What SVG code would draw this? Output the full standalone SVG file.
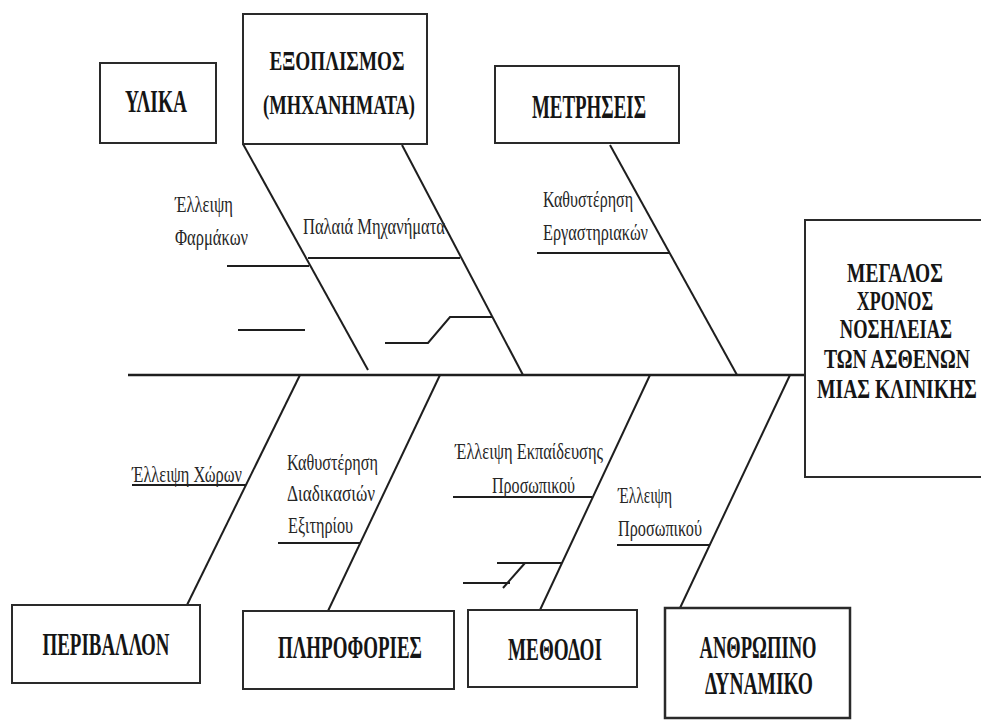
<svg xmlns="http://www.w3.org/2000/svg" width="981" height="720" viewBox="0 0 981 720">
<style>
.box{fill:#fff;stroke:#2a2a2a;stroke-width:2}
.t{font-family:"Liberation Serif","Times New Roman",serif;font-weight:bold;fill:#151515;text-anchor:middle}
.l{font-family:"Liberation Serif","Times New Roman",serif;font-size:23px;fill:#262626}
.ln{stroke:#1e1e1e;stroke-width:2;fill:none}
.sp{stroke:#1e1e1e;stroke-width:2.5;fill:none}
</style>
<rect width="981" height="720" fill="#fff"/>
<g id="connectors">
<line class="sp" x1="128" y1="375" x2="805" y2="375"/>
<line class="ln" x1="243" y1="144" x2="368" y2="370"/>
<line class="ln" x1="402" y1="145" x2="523" y2="375"/>
<line class="ln" x1="610" y1="145" x2="737" y2="375"/>
<line class="ln" x1="300" y1="375" x2="187" y2="605"/>
<line class="ln" x1="440" y1="375" x2="328" y2="611"/>
<line class="ln" x1="650" y1="375" x2="540" y2="610"/>
<line class="ln" x1="790" y1="375" x2="680" y2="608"/>
<line class="ln" x1="227" y1="266" x2="309" y2="266"/>
<line class="ln" x1="308" y1="258" x2="460" y2="258"/>
<line class="ln" x1="238" y1="330" x2="305" y2="330"/>
<polyline class="ln" points="493,317 450,317 428,343 385,343"/>
<line class="ln" x1="537" y1="253" x2="670" y2="253"/>
<line class="ln" x1="132" y1="485" x2="246" y2="485"/>
<line class="ln" x1="278" y1="543" x2="360" y2="543"/>
<line class="ln" x1="453" y1="497" x2="592" y2="497"/>
<line class="ln" x1="497" y1="563" x2="562" y2="563"/>
<line class="ln" x1="525" y1="563" x2="503" y2="588"/>
<line class="ln" x1="463" y1="583" x2="510" y2="583"/>
<line class="ln" x1="617" y1="545" x2="710" y2="545"/>
</g>
<g id="labels">
<text class="l" x="175" y="212" textLength="58" lengthAdjust="spacingAndGlyphs">Έλλειψη</text>
<text class="l" x="175" y="245" textLength="73" lengthAdjust="spacingAndGlyphs">Φαρμάκων</text>
<text class="l" x="303" y="234" textLength="142" lengthAdjust="spacingAndGlyphs">Παλαιά Μηχανήματα</text>
<text class="l" x="543" y="207" textLength="90" lengthAdjust="spacingAndGlyphs">Καθυστέρηση</text>
<text class="l" x="543" y="240" textLength="105" lengthAdjust="spacingAndGlyphs">Εργαστηριακών</text>
<text class="l" x="132" y="482" textLength="110" lengthAdjust="spacingAndGlyphs">Έλλειψη Χώρων</text>
<text class="l" x="287" y="470" textLength="91" lengthAdjust="spacingAndGlyphs">Καθυστέρηση</text>
<text class="l" x="287" y="501" textLength="88" lengthAdjust="spacingAndGlyphs">Διαδικασιών</text>
<text class="l" x="288" y="533" textLength="65" lengthAdjust="spacingAndGlyphs">Εξιτηρίου</text>
<text class="l" x="455" y="459" textLength="148" lengthAdjust="spacingAndGlyphs">Έλλειψη Εκπαίδευσης</text>
<text class="l" x="492" y="493" textLength="83" lengthAdjust="spacingAndGlyphs">Προσωπικού</text>
<text class="l" x="618" y="503" textLength="54" lengthAdjust="spacingAndGlyphs">Έλλειψη</text>
<text class="l" x="618" y="536" textLength="84" lengthAdjust="spacingAndGlyphs">Προσωπικού</text>
</g>
<g id="node-ylika">
<rect class="box" x="100" y="63" width="116" height="80"/>
<text class="t" x="156" y="112" font-size="32" textLength="62" lengthAdjust="spacingAndGlyphs">ΥΛΙΚΑ</text>
</g>
<g id="node-exoplismos">
<rect class="box" x="243" y="14" width="184" height="130"/>
<text class="t" x="337" y="70" font-size="27" textLength="135" lengthAdjust="spacingAndGlyphs">ΕΞΟΠΛΙΣΜΟΣ</text>
<text class="t" x="339" y="114" font-size="27" textLength="152" lengthAdjust="spacingAndGlyphs">(ΜΗΧΑΝΗΜΑΤΑ)</text>
</g>
<g id="node-metriseis">
<rect class="box" x="495" y="66" width="184" height="77"/>
<text class="t" x="589" y="118" font-size="33" textLength="114" lengthAdjust="spacingAndGlyphs">ΜΕΤΡΗΣΕΙΣ</text>
</g>
<g id="node-head">
<rect class="box" x="805" y="220" width="190" height="257"/>
<text class="t" transform="translate(895,282) scale(0.72,1)" font-size="27" textLength="133" lengthAdjust="spacingAndGlyphs">ΜΕΓΑΛΟΣ</text>
<text class="t" transform="translate(895,310) scale(0.72,1)" font-size="27" textLength="106" lengthAdjust="spacingAndGlyphs">ΧΡΟΝΟΣ</text>
<text class="t" transform="translate(896,338) scale(0.72,1)" font-size="27" textLength="156" lengthAdjust="spacingAndGlyphs">ΝΟΣΗΛΕΙΑΣ</text>
<text class="t" transform="translate(897,368) scale(0.72,1)" font-size="27" textLength="203" lengthAdjust="spacingAndGlyphs">ΤΩΝ ΑΣΘΕΝΩΝ</text>
<text class="t" transform="translate(897,398) scale(0.72,1)" font-size="27" textLength="222" lengthAdjust="spacingAndGlyphs">ΜΙΑΣ ΚΛΙΝΙΚΗΣ</text>
</g>
<g id="node-perivallon">
<rect class="box" x="12" y="605" width="188" height="78"/>
<text class="t" x="106" y="655" font-size="32" textLength="127" lengthAdjust="spacingAndGlyphs">ΠΕΡΙΒΑΛΛΟΝ</text>
</g>
<g id="node-plirofories">
<rect class="box" x="243" y="611" width="211" height="78"/>
<text class="t" x="350" y="658" font-size="32" textLength="144" lengthAdjust="spacingAndGlyphs">ΠΛΗΡΟΦΟΡΙΕΣ</text>
</g>
<g id="node-methodoi">
<rect class="box" x="468" y="610" width="169" height="77"/>
<text class="t" x="555" y="660" font-size="31" textLength="94" lengthAdjust="spacingAndGlyphs">ΜΕΘΟΔΟΙ</text>
</g>
<g id="node-anthropino">
<rect class="box" x="665" y="608" width="185" height="110" style="stroke-width:2.5"/>
<text class="t" x="758" y="658" font-size="31" textLength="117" lengthAdjust="spacingAndGlyphs">ΑΝΘΡΩΠΙΝΟ</text>
<text class="t" x="759" y="694" font-size="31" textLength="108" lengthAdjust="spacingAndGlyphs">ΔΥΝΑΜΙΚΟ</text>
</g>
</svg>
